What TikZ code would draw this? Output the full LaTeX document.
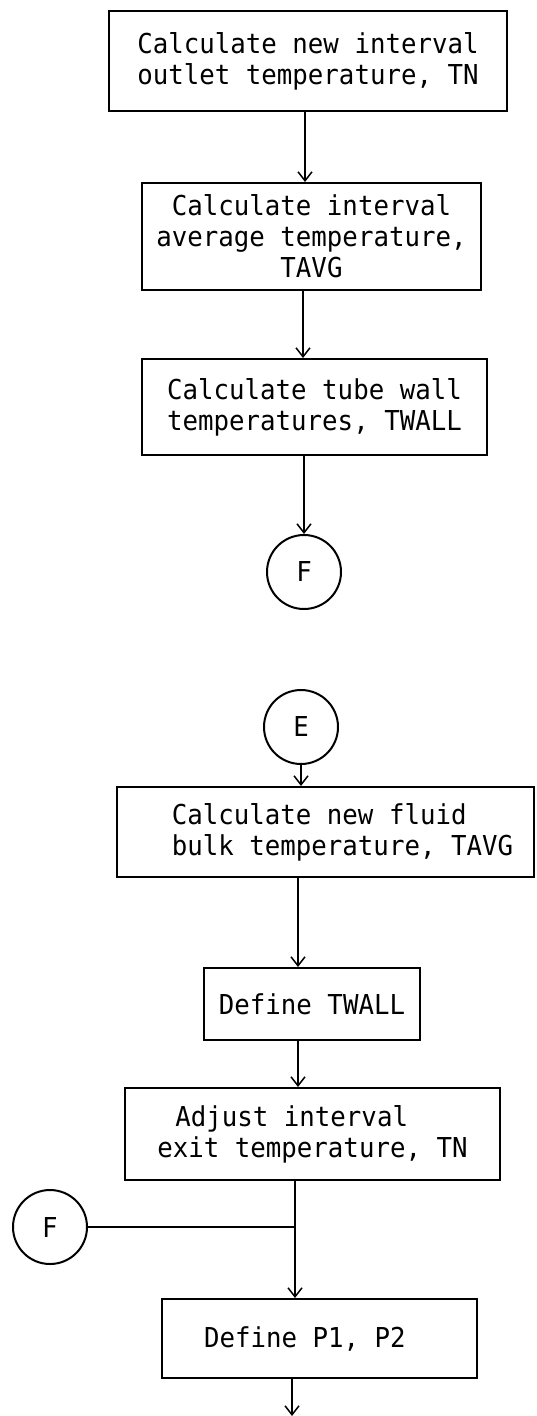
\documentclass[tikz,border=0pt]{standalone}
\usepackage{fontspec}
\newfontfamily\typew[FakeStretch=0.94]{DejaVu Sans Mono}
\usetikzlibrary{arrows.meta}
\begin{document}
\begin{tikzpicture}[x=1pt,y=-1pt,
  txt/.style={font=\typew\fontsize{27.4}{31}\selectfont},
  procbox/.style={draw, line width=2pt, inner sep=0pt, txt},
  conn/.style={draw, circle, line width=2pt, minimum size=74pt, inner sep=0pt, txt},
  arr/.style={line width=1.5pt, -{Straight Barb[length=9pt,width=14pt,line width=1.5pt]}},
  ln/.style={line width=1.6pt}]
\useasboundingbox (0,0) rectangle (537,1416);
% process boxes
\node[procbox, minimum width=398pt, minimum height=100pt, align=center] (b1) at (308,61)
  {Calculate new interval\\outlet temperature, TN};
\node[procbox, minimum width=339pt, minimum height=107pt, align=center] (b2) at (311.5,236.5)
  {Calculate interval\\average temperature,\\TAVG};
\node[procbox, minimum width=345pt, minimum height=96pt, align=center] (b3) at (314.5,407)
  {Calculate tube wall\\temperatures, TWALL};
\node[conn] (f1) at (304,572) {F};
\node[conn] (e) at (301,727) {E};
\node[procbox, minimum width=417pt, minimum height=90pt, align=left] (b4) at (325.5,832)
  {\hspace*{34pt}Calculate new fluid\\\hspace*{34pt}bulk temperature, TAVG};
\node[procbox, minimum width=216pt, minimum height=72pt] (b5) at (312,1004)
  {Define TWALL};
\node[procbox, minimum width=375pt, minimum height=92pt, align=left] (b6) at (312.5,1134)
  {\hspace*{18pt}Adjust interval\\exit temperature, TN};
\node[conn] (f2) at (50,1227) {F};
\node[procbox, minimum width=315pt, minimum height=79pt] (b7) at (319.5,1338.5)
  {\makebox[231pt][l]{Define P1, P2}};
% helper coordinates
\coordinate (x1) at (305,0);
\coordinate (x2) at (303,0);
\coordinate (x5) at (298,0);
\coordinate (x6) at (298,0);
\coordinate (j) at (295,1227);
\coordinate (end) at (292,1416);
% connectors
\draw[arr] (b1.south -| x1) -- (b2.north -| x1);
\draw[arr] (b2.south -| x2) -- (b3.north -| x2);
\draw[arr] (b3.south -| f1) -- (f1.north);
\draw[arr] (e.south) -- (b4.north -| e.south);
\draw[arr] (b4.south -| x5) -- (b5.north -| x5);
\draw[arr] (b5.south -| x6) -- (b6.north -| x6);
\draw[ln] (b6.south -| j) -- (j);
\draw[ln] (f2) -- (j);
\draw[arr] (j) -- (b7.north -| j);
\draw[arr] (b7.south -| end) -- (end);
\end{tikzpicture}
\end{document}
